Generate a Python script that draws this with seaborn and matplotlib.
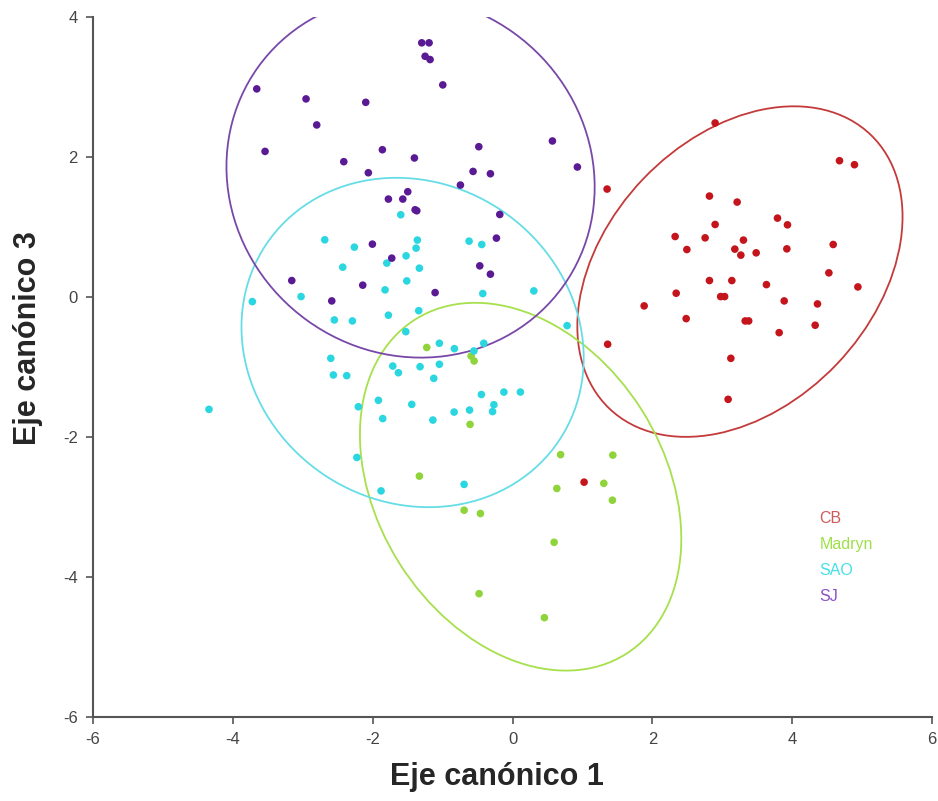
import numpy as np
import pandas as pd
import matplotlib
matplotlib.use("Agg")
import matplotlib.pyplot as plt
from matplotlib.patches import Ellipse
from matplotlib.lines import Line2D
import seaborn as sns

# ---------------- data ----------------
groups = ["CB", "Madryn", "SAO", "SJ"]

cb_x = [2.898, 4.677, 4.891, 1.353, 2.817, 3.213, 3.790, 3.933, 2.898, 2.326,
        2.755, 3.303, 2.494, 3.180, 3.266, 3.485, 3.924, 4.587, 4.525, 2.817,
        3.137, 3.632, 4.940, 2.341, 2.977, 3.034, 1.883, 3.886, 4.362, 2.484,
        3.328, 3.378, 3.814, 4.329, 1.361, 3.123, 3.084, 1.024]
cb_y = [2.486, 1.947, 1.890, 1.542, 1.442, 1.356, 1.127, 1.031, 1.036, 0.864,
        0.845, 0.813, 0.678, 0.684, 0.598, 0.631, 0.688, 0.750, 0.345, 0.235,
        0.235, 0.177, 0.144, 0.054, 0.006, 0.006, -0.127, -0.056, -0.099, -0.309,
        -0.342, -0.342, -0.509, -0.403, -0.675, -0.876, -1.462, -2.645]

madryn_x = [-1.226, -0.592, -0.549, -0.607, 0.688, 1.435, -1.332, 0.634, 1.306,
            1.429, -0.692, -0.459, 0.595, -0.478, 0.456]
madryn_y = [-0.721, -0.843, -0.914, -1.820, -2.252, -2.259, -2.559, -2.735, -2.662,
            -2.903, -3.046, -3.093, -3.504, -4.238, -4.581]

sao_x = [-1.598, -2.685, -2.262, -1.361, -1.379, -0.621, -0.439, -1.522, -1.798,
         -2.428, -1.332, -1.512, -1.823, -3.024, -3.721, -0.425, 0.305, -2.548,
         -2.290, -1.775, -1.341, 0.781, -1.526, -1.046, -0.831, -0.552, -0.411,
         -2.599, -1.712, -1.632, -1.322, -1.046, -1.126, -2.562, -2.371, -0.445,
         -0.123, 0.113, -1.918, -2.205, -1.441, -0.266, -0.285, -0.835, -0.614,
         -4.341, -1.856, -1.139, -2.226, -0.692, -1.880]
sao_y = [1.175, 0.817, 0.712, 0.813, 0.698, 0.798, 0.750, 0.588, 0.484, 0.426,
         0.412, 0.230, 0.102, 0.006, -0.066, 0.049, 0.087, -0.328, -0.342, -0.260,
         -0.195, -0.409, -0.495, -0.661, -0.738, -0.771, -0.661, -0.876, -0.986,
         -1.082, -0.996, -0.961, -1.162, -1.114, -1.124, -1.393, -1.358, -1.358,
         -1.476, -1.568, -1.534, -1.539, -1.637, -1.644, -1.615, -1.605, -1.737,
         -1.758, -2.292, -2.677, -2.770]

sj_x = [-1.298, -1.193, -1.250, -1.179, -0.997, -3.658, -2.953, -2.099, -2.800,
        0.571, -3.539, -1.861, -0.482, -2.413, -1.403, 0.928, -2.062, -0.564,
        -0.316, -0.745, -1.498, -1.775, -1.569, -1.393, -1.369, -0.182, -0.230,
        -2.004, -1.727, -0.468, -0.316, -3.157, -2.142, -1.107, -2.585]
sj_y = [3.631, 3.631, 3.439, 3.392, 3.030, 2.973, 2.830, 2.781, 2.458, 2.229,
        2.080, 2.104, 2.147, 1.933, 1.986, 1.857, 1.775, 1.794, 1.761, 1.599,
        1.504, 1.399, 1.399, 1.246, 1.232, 1.179, 0.841, 0.755, 0.555, 0.445,
        0.326, 0.235, 0.169, 0.063, -0.056]

# confidence ellipses: centre x, centre y, full width, full height, angle (deg)
ell_cx = [3.253, 0.116, -1.429, -1.458]
ell_cy = [0.363, -2.710, -0.650, 1.718]
ell_w = [5.41, 5.65, 5.04, 5.37]
ell_h = [3.83, 4.10, 4.55, 5.06]
ell_ang = [46.3, -57.7, -33.6, -35.7]

xticks = [-6, -4, -2, 0, 2, 4, 6]
yticks = [-6, -4, -2, 0, 2, 4]
xlabel = "Eje canónico 1"
ylabel = "Eje canónico 3"

# ---------------- styling ----------------
point_colors = {"CB": "#c4141c", "Madryn": "#8ed43a", "SAO": "#2ad6e0", "SJ": "#5a1a94"}
ellipse_colors = ["#c43a3a", "#a6e04c", "#66dde6", "#7848a8"]
legend_colors = ["#d05a5a", "#9ee048", "#44e0e8", "#8a50c4"]

sns.set_style("ticks")
plt.rcParams["font.family"] = ["Liberation Sans", "DejaVu Sans"]

df = pd.DataFrame({
    "x": cb_x + madryn_x + sao_x + sj_x,
    "y": cb_y + madryn_y + sao_y + sj_y,
    "grupo": (["CB"] * len(cb_x) + ["Madryn"] * len(madryn_x)
              + ["SAO"] * len(sao_x) + ["SJ"] * len(sj_x)),
})

fig = plt.figure(figsize=(9.38, 8.01), dpi=100)
ax = fig.add_axes([93 / 938, (801 - 717) / 801, (932 - 93) / 938, (717 - 17) / 801])

for i in range(len(groups)):
    e = Ellipse((ell_cx[i], ell_cy[i]), ell_w[i], ell_h[i], angle=ell_ang[i],
                fill=False, edgecolor=ellipse_colors[i], linewidth=1.3, zorder=1)
    ax.add_patch(e)

sns.scatterplot(data=df, x="x", y="y", hue="grupo", palette=point_colors,
                hue_order=groups, s=30, edgecolor="none", legend=False, ax=ax, zorder=2)

ax.set_xlim(-6, 6)
ax.set_ylim(-6, 4)
ax.set_xticks(xticks)
ax.set_yticks(yticks)
ax.set_xticklabels([str(t) for t in xticks])
ax.set_yticklabels([str(t) for t in yticks])
ax.tick_params(axis="both", direction="out", length=5, width=1.2, colors="#555555",
               labelsize=12, labelcolor="#444444", pad=6)
sns.despine(ax=ax)
for sp in ("left", "bottom"):
    ax.spines[sp].set_color("#555555")
    ax.spines[sp].set_linewidth(1.5)

ax.set_xlabel(xlabel, fontsize=22, fontweight="bold")
ax.set_ylabel(ylabel, fontsize=22, fontweight="bold")
ax.xaxis.set_label_coords(0.4815, -0.064)
ax.yaxis.set_label_coords(-0.06, 0.541)

handles = [Line2D([], [], linestyle="none") for _ in groups]
ax.legend(handles, groups, labelcolor=legend_colors, frameon=False,
          handlelength=0, handletextpad=0, borderpad=0, borderaxespad=0,
          labelspacing=0.68, fontsize=11.5,
          loc="upper left", bbox_to_anchor=(0.866, 0.294))

fig.savefig("out.png", dpi=100)
